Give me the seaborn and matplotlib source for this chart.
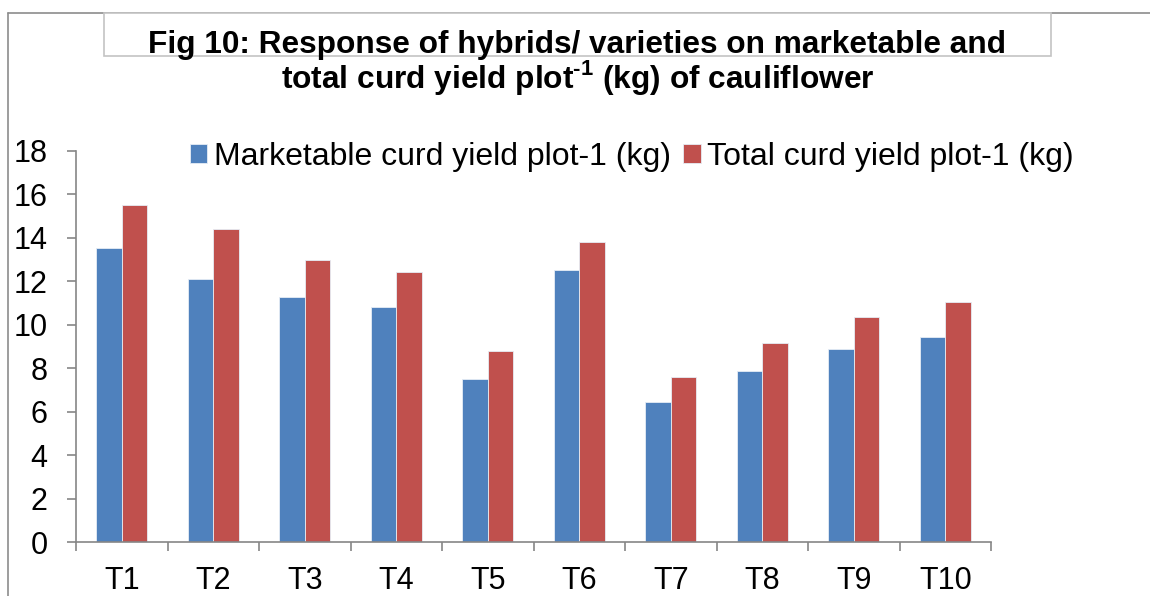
import matplotlib
matplotlib.use("Agg")
import matplotlib.pyplot as plt
import matplotlib.patches as mpatches
import matplotlib.lines as mlines
from matplotlib.ticker import FixedLocator
import seaborn as sns
import pandas as pd
import numpy as np

# data
treatments = ["T1", "T2", "T3", "T4", "T5", "T6", "T7", "T8", "T9", "T10"]
marketable = [13.53, 12.09, 11.28, 10.82, 7.51, 12.50, 6.45, 7.87, 8.89, 9.46]
total = [15.52, 14.41, 12.98, 12.41, 8.79, 13.82, 7.60, 9.17, 10.37, 11.06]
series_names = ["Marketable curd yield plot-1 (kg)", "Total curd yield plot-1 (kg)"]
colors = ["#4F81BD", "#C0504D"]

df = pd.DataFrame({
    "treatment": treatments * 2,
    "yield": marketable + total,
    "series": [series_names[0]] * len(treatments) + [series_names[1]] * len(treatments),
})

sns.set_theme(style="white")
plt.rcParams["font.family"] = ["Liberation Sans", "DejaVu Sans"]
plt.rcParams["text.color"] = "black"
plt.rcParams["mathtext.fontset"] = "custom"
plt.rcParams["mathtext.bf"] = "Liberation Sans:bold"
plt.rcParams["mathtext.rm"] = "Liberation Sans:bold"

W, H = 1150, 596
fig = plt.figure(figsize=(W / 100, H / 100), dpi=100)
fig.patch.set_facecolor("white")

# outer chart frame (only top and left visible in the crop)
frame_col = "#8C8C8C"
fig.add_artist(mlines.Line2D([8 / W, 1.0], [1 - 13 / H, 1 - 13 / H], color=frame_col, lw=1.2,
                             transform=fig.transFigure))
fig.add_artist(mlines.Line2D([8 / W, 8 / W], [1 - 13 / H, 0], color=frame_col, lw=1.2,
                             transform=fig.transFigure))

# title box
fig.add_artist(mpatches.Rectangle((104 / W, 1 - 56 / H), (1051 - 104) / W, 43 / H,
                                  transform=fig.transFigure, facecolor="white",
                                  edgecolor="#C4C4C4", lw=1.2, zorder=2))

ax = fig.add_axes([76 / W, 1 - 542 / H, (991 - 76) / W, (542 - 151) / H])
sns.barplot(data=df, x="treatment", y="yield", hue="series", palette=colors,
            width=0.56, gap=0, saturation=1, edgecolor="#E6EDF5", linewidth=0.6,
            errorbar=None, ax=ax)

ax.set_ylim(0, 18)
ax.set_xlim(-0.5, len(treatments) - 0.5)
ax.set_yticks(np.arange(0, 19, 2))
ax.set_xlabel("")
ax.set_ylabel("")

axis_col = "#868686"
for side in ["top", "right"]:
    ax.spines[side].set_visible(False)
for side in ["left", "bottom"]:
    ax.spines[side].set_color(axis_col)
    ax.spines[side].set_linewidth(1.2)

ax.tick_params(axis="y", which="major", direction="out", length=6.5, width=1.2,
               color=axis_col, labelsize=22, pad=14, left=True, labelcolor="black")
ax.xaxis.set_minor_locator(FixedLocator(np.arange(-0.5, len(treatments), 1.0)))
ax.tick_params(axis="x", which="major", length=0, labelsize=22, pad=17, labelcolor="black")
ax.tick_params(axis="x", which="minor", direction="out", length=6.5, width=1.2,
               color=axis_col, bottom=True)

ax.legend(loc="center left", bbox_to_anchor=(190 / W, 1 - 157 / H),
          bbox_transform=fig.transFigure, ncol=2, frameon=False, fontsize=23,
          handlelength=0.54, handleheight=0.54, handletextpad=0.2,
          columnspacing=0.4, borderpad=0, borderaxespad=0, labelcolor="black")

title_kw = dict(ha="center", va="baseline", fontsize=22.8, fontweight="bold",
                color="black", zorder=3)
fig.text(0.502, 1 - 53 / H, "Fig 10: Response of hybrids/ varieties on marketable and", **title_kw)
fig.text(0.502, 1 - 88 / H, r"total curd yield plot$^{\text{-1}}$ (kg) of cauliflower", **title_kw)

fig.savefig("out.png", dpi=100, facecolor="white")
